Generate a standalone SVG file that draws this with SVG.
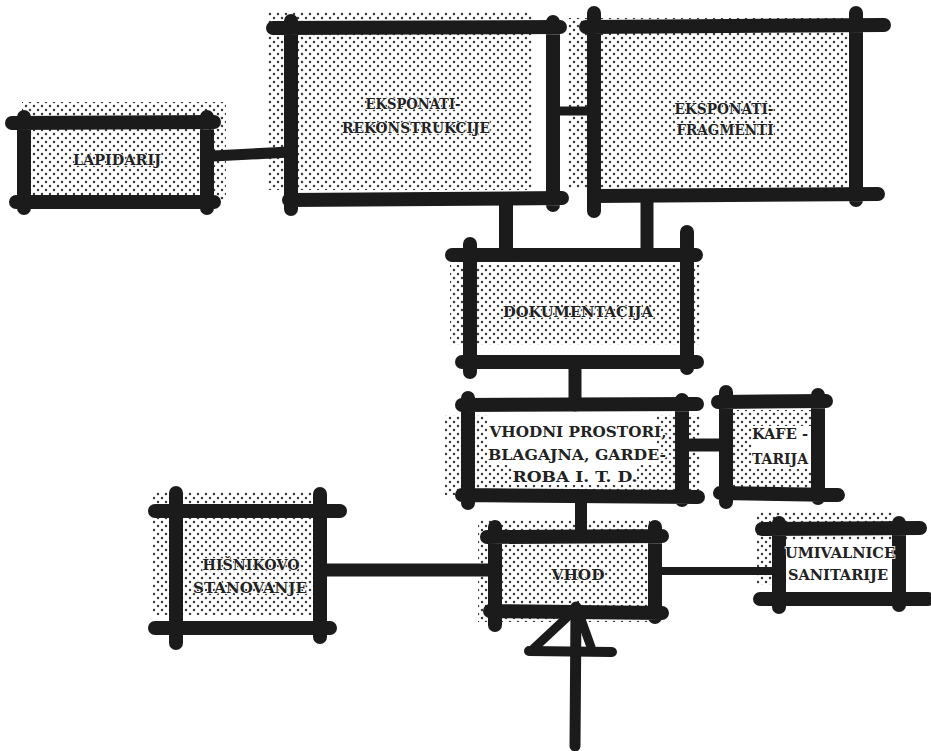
<svg xmlns="http://www.w3.org/2000/svg" width="931" height="751" viewBox="0 0 931 751">
<defs>
<pattern id="dots" width="8" height="8" patternUnits="userSpaceOnUse">
<circle cx="2" cy="2" r="1.25" fill="#3a3a3a"/>
<circle cx="6" cy="6" r="1.25" fill="#3a3a3a"/>
</pattern>
<style>
.st{fill:url(#dots);}
.wh{fill:#fff;}
.b{fill:none;stroke:#1b1b1b;stroke-width:14;stroke-linecap:round;stroke-linejoin:round;}
.c{fill:none;stroke:#1b1b1b;stroke-linecap:round;}
.t{font-family:"DejaVu Serif Condensed","DejaVu Serif","Liberation Serif",serif;font-size:15px;font-weight:bold;fill:#222;stroke:#fff;stroke-width:1.5;paint-order:stroke;text-anchor:middle;}
</style>
</defs>
<rect width="931" height="751" fill="#fff"/>

<g id="lapidarij">
<rect class="st" x="22" y="102" width="204" height="98"/>
<path class="b" d="M12 123 L214 122 M24 117 L24 208 M16 202 L214 202 M207 117 L207 208"/>
<text class="t" x="117" y="165" textLength="88" lengthAdjust="spacingAndGlyphs">LAPIDARIJ</text>
</g>

<g id="eksponati-rekonstrukcije">
<rect class="st" x="268" y="12" width="264" height="178"/>
<path class="b" d="M273 28 L560 27 M291 21 L291 209 M289 200 L562 198 M553 22 L553 205"/>
<text class="t" x="413" y="109" textLength="95" lengthAdjust="spacingAndGlyphs">EKSPONATI-</text>
<text class="t" x="416" y="133" textLength="148" lengthAdjust="spacingAndGlyphs">REKONSTRUKCIJE</text>
</g>

<g id="eksponati-fragmenti">
<rect class="st" x="568" y="18" width="280" height="170"/>
<path class="b" d="M586 27 L884 25 M594 13 L594 211 M594 196 L878 194 M856 13 L856 200"/>
<text class="t" x="724" y="114" textLength="99" lengthAdjust="spacingAndGlyphs">EKSPONATI-</text>
<text class="t" x="725" y="135" textLength="97" lengthAdjust="spacingAndGlyphs">FRAGMENTI</text>
</g>

<g id="dokumentacija">
<rect class="st" x="450" y="265" width="250" height="80"/>
<path class="b" d="M452 255 L696 255 M470 244 L470 372 M462 362 L697 362 M687 232 L687 368"/>
<text class="t" x="578" y="317" textLength="150" lengthAdjust="spacingAndGlyphs">DOKUMENTACIJA</text>
</g>

<g id="vhodni-prostori">
<rect class="st" x="445" y="415" width="255" height="80"/>
<rect class="wh" x="487" y="414" width="170" height="51"/>
<rect class="wh" x="512" y="465" width="125" height="20"/>
<path class="b" d="M462 405 L697 404 M468 398 L468 503 M462 495 L698 497 M682 400 L682 500"/>
<text class="t" x="578" y="437" textLength="177" lengthAdjust="spacingAndGlyphs">VHODNI  PROSTORI,</text>
<text class="t" x="577" y="460" textLength="178" lengthAdjust="spacingAndGlyphs">BLAGAJNA, GARDE-</text>
<text class="t" x="575" y="482" textLength="125" lengthAdjust="spacingAndGlyphs">ROBA I. T. D.</text>
</g>

<g id="kafe-tarija">
<rect class="st" x="733" y="410" width="90" height="78"/>
<rect class="wh" x="752" y="426" width="60" height="43"/>
<path class="b" d="M718 402 L826 401 M726 392 L726 502 M720 493 L838 495 M818 395 L818 498"/>
<text class="t" x="780" y="439" textLength="56" lengthAdjust="spacingAndGlyphs">KAFE -</text>
<text class="t" x="780" y="464" textLength="56" lengthAdjust="spacingAndGlyphs">TARIJA</text>
</g>

<g id="hisnikovo-stanovanje">
<rect class="st" x="153" y="492" width="162" height="123"/>
<path class="b" d="M155 511 L340 511 M176 493 L176 643 M155 628 L330 628 M320 494 L320 637"/>
<text class="t" x="251" y="570" style="font-size:14px" textLength="97" lengthAdjust="spacingAndGlyphs">HIŠNIKOVO</text>
<text class="t" x="250" y="593" style="font-size:14px" textLength="114" lengthAdjust="spacingAndGlyphs">STANOVANJE</text>
</g>

<g id="vhod">
<rect class="st" x="478" y="520" width="172" height="102"/>
<path class="b" d="M487 537 L662 536 M495 527 L495 625 M490 611 L662 613 M655 527 L655 617"/>
<text class="t" x="578" y="580" textLength="53" lengthAdjust="spacingAndGlyphs">VHOD</text>
</g>

<g id="umivalnice-sanitarije">
<rect class="st" x="757" y="512" width="136" height="73"/>
<rect class="wh" x="784" y="540" width="109" height="46"/>
<path class="b" d="M762 529 L920 528 M779 523 L779 607 M760 599 L928 599 M899 523 L899 605"/>
<text class="t" x="840" y="558" textLength="110" lengthAdjust="spacingAndGlyphs">UMIVALNICE</text>
<text class="t" x="838" y="580" textLength="100" lengthAdjust="spacingAndGlyphs">SANITARIJE</text>
</g>

<g id="connectors">
<path class="c" stroke-width="11" d="M213 156 L290 152"/>
<path class="c" stroke-width="9" d="M553 111 L595 111"/>
<path class="c" stroke-width="14" d="M506 205 L506 255"/>
<path class="c" stroke-width="13" d="M647 200 L647 255"/>
<path class="c" stroke-width="13" d="M575 369 L575 405"/>
<path class="c" stroke-width="13" d="M690 445 L726 445"/>
<path class="c" stroke-width="12" d="M581 497 L581 535"/>
<path class="c" stroke-width="13" d="M327 570 L495 570"/>
<path class="c" stroke-width="8" d="M655 571 L779 571"/>
<path class="c" stroke-width="11" d="M575 746 L576 607"/>
<path class="c" stroke-width="9" d="M577 608 L532 650 M577 608 L591 647"/>
<path class="c" stroke-width="10" d="M529 651 L612 652"/>
</g>
</svg>
